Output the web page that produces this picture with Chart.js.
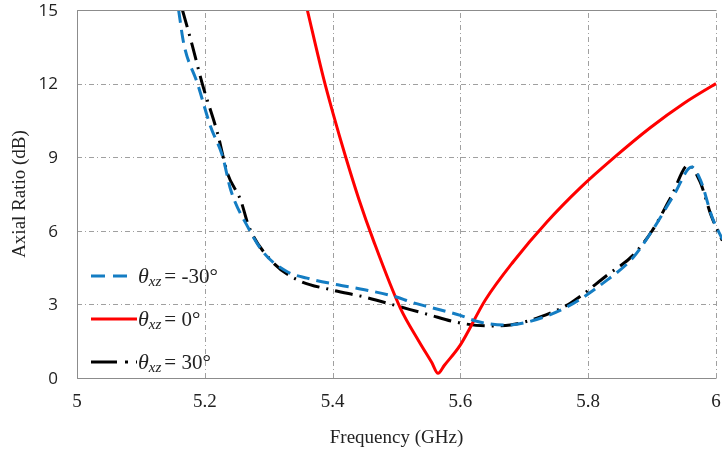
<!DOCTYPE html>
<html>
<head>
<meta charset="utf-8">
<script src="https://cdn.jsdelivr.net/npm/chart.js@4.4.0/dist/chart.umd.min.js"></script>
<style>
  html, body { margin: 0; padding: 0; background: #fff; }
  #wrap { width: 722px; height: 452px; }
</style>
</head>
<body>
<div id="wrap"><canvas id="chart"></canvas></div>
<script>
// theta_xz = -30 deg
const freqNeg30 = [5.159, 5.167, 5.1886, 5.209, 5.228, 5.2406, 5.267, 5.293, 5.329, 5.36, 5.408, 5.45, 5.5, 5.522, 5.55, 5.6, 5.627, 5.673, 5.705, 5.767, 5.83, 5.87, 5.9, 5.935, 5.962, 5.976, 5.994, 6.01];
const arNeg30   = [15, 13.64, 12.0, 10.25, 9.02, 7.66, 6.17, 5.08, 4.33, 4.07, 3.8, 3.6, 3.3, 3.1, 2.9, 2.55, 2.3, 2.16, 2.28, 2.9, 4.0, 4.9, 6.0, 7.5, 8.6, 8.05, 6.55, 5.65];

// theta_xz = 0 deg
const freq0 = [5.3604, 5.386, 5.4, 5.42, 5.441, 5.464, 5.506, 5.535, 5.555, 5.565, 5.575, 5.6, 5.639, 5.683, 5.735, 5.7875, 5.839, 5.897, 5.95, 6.0, 6.01];
const ar0   = [15, 12.2, 10.85, 9.05, 7.3, 5.6, 2.85, 1.5, 0.64, 0.19, 0.52, 1.35, 3.18, 4.75, 6.35, 7.75, 8.95, 10.2, 11.2, 12.0, 12.15];

// theta_xz = 30 deg
const freqPos30 = [5.165, 5.181, 5.196, 5.22, 5.2355, 5.256, 5.269, 5.303, 5.345, 5.397, 5.45, 5.506, 5.548, 5.6, 5.647, 5.678, 5.725, 5.772, 5.83, 5.87, 5.9, 5.93, 5.957, 5.975, 5.993, 6.01];
const arPos30   = [15, 13.5, 12.0, 9.97, 8.34, 7.26, 6.17, 4.81, 4.0, 3.6, 3.3, 2.9, 2.6, 2.24, 2.12, 2.16, 2.49, 3.05, 4.2, 5.0, 6.0, 7.4, 8.68, 8.0, 6.58, 5.6];

const xTicks = [5, 5.2, 5.4, 5.6, 5.8, 6];
const yTicks = [0, 3, 6, 9, 12, 15];
const xTickLabels = ["5", "5.2", "5.4", "5.6", "5.8", "6"];
const yTickLabels = ["0", "3", "6", "9", "12", "15"];

const legendLabels = ["-30°", "0°", "30°"];

const toPoints = (xs, ys) => xs.map((x, i) => ({ x: x, y: ys[i] }));

const BLUE = "rgb(20,125,195)";
const RED = "rgb(255,0,0)";
const BLACK = "#000";
const SERIF = "'Liberation Serif', 'DejaVu Serif', serif";

// curves run a little past the right edge of the frame, as in the original
const CLIP = { left: 0, top: 0, bottom: 0, right: 10 };

// dash-dot grid and tick labels, placed with the chart's scales
const gridPlugin = {
  id: "dashGrid",
  beforeDatasetsDraw(chart) {
    const ctx = chart.ctx;
    const a = chart.chartArea;
    const xs = chart.scales.x, ys = chart.scales.y;
    ctx.save();
    ctx.strokeStyle = "#a0a0a0";
    ctx.lineWidth = 1;
    ctx.setLineDash([5, 3, 1, 3]);
    xTicks.forEach(v => {
      const px = Math.round(xs.getPixelForValue(v)) + 0.5;
      ctx.beginPath();
      ctx.moveTo(px, a.bottom);
      ctx.lineTo(px, a.top);
      ctx.stroke();
    });
    yTicks.forEach(v => {
      const py = Math.round(ys.getPixelForValue(v)) + 0.5;
      ctx.beginPath();
      ctx.moveTo(a.left, py);
      ctx.lineTo(a.right, py);
      ctx.stroke();
    });
    ctx.setLineDash([]);

    ctx.fillStyle = "#222";
    ctx.textBaseline = "middle";
    ctx.textAlign = "center";
    ctx.font = "19px " + SERIF;
    xTicks.forEach((v, i) => {
      ctx.fillText(xTickLabels[i], xs.getPixelForValue(v), a.bottom + 24);
    });
    ctx.textAlign = "right";
    ctx.font = "17px 'Open Sans', 'Liberation Sans', sans-serif";
    yTicks.forEach((v, i) => {
      ctx.fillText(yTickLabels[i], a.left - 19, ys.getPixelForValue(v) + 1);
    });
    ctx.restore();
  }
};

// frame + custom legend with subscripts
const framePlugin = {
  id: "frame",
  afterDraw(chart) {
    const ctx = chart.ctx;
    const a = chart.chartArea;
    ctx.save();
    ctx.strokeStyle = "#8c8c8c";
    ctx.lineWidth = 1;
    ctx.beginPath();
    ctx.moveTo(Math.round(a.right) + 0.5, Math.round(a.top) + 0.5);
    ctx.lineTo(Math.round(a.left) + 0.5, Math.round(a.top) + 0.5);
    ctx.lineTo(Math.round(a.left) + 0.5, Math.round(a.bottom) + 0.5);
    ctx.lineTo(Math.round(a.right) + 0.5, Math.round(a.bottom) + 0.5);
    ctx.stroke();

    const items = [
      { color: BLUE, dash: [14, 8], y: 276 },
      { color: RED, dash: [], y: 319 },
      { color: BLACK, dash: [26, 8, 3, 8], y: 362 }
    ];
    items.forEach((it, i) => {
      ctx.strokeStyle = it.color;
      ctx.lineWidth = 3;
      ctx.setLineDash(it.dash);
      ctx.beginPath();
      ctx.moveTo(91, it.y);
      ctx.lineTo(i === 0 ? 135 : 137, it.y);
      ctx.stroke();
      ctx.setLineDash([]);

      let x = 138;
      const base = it.y + 7;
      ctx.fillStyle = "#222";
      ctx.textBaseline = "alphabetic";
      ctx.textAlign = "left";
      ctx.font = "italic 22px " + SERIF;
      ctx.fillText("θ", x, base);
      x += ctx.measureText("θ").width;
      ctx.font = "italic 15px " + SERIF;
      ctx.fillText("xz", x, base + 3);
      x += ctx.measureText("xz").width + 3;
      ctx.font = "21px " + SERIF;
      ctx.fillText("= " + legendLabels[i], x, base);
    });
    ctx.restore();
  }
};

new Chart(document.getElementById("chart"), {
  type: "line",
  data: {
    datasets: [
      {
        data: toPoints(freqNeg30, arNeg30),
        borderColor: BLUE,
        borderWidth: 3,
        borderDash: [13, 7],
        pointRadius: 0,
        cubicInterpolationMode: "monotone",
        clip: CLIP,
        fill: false
      },
      {
        data: toPoints(freq0, ar0),
        borderColor: RED,
        borderWidth: 3,
        pointRadius: 0,
        cubicInterpolationMode: "monotone",
        clip: CLIP,
        fill: false
      },
      {
        data: toPoints(freqPos30, arPos30),
        borderColor: BLACK,
        borderWidth: 3,
        borderDash: [18, 7, 2, 7],
        pointRadius: 0,
        cubicInterpolationMode: "monotone",
        clip: CLIP,
        fill: false
      }
    ]
  },
  options: {
    responsive: true,
    maintainAspectRatio: false,
    animation: false,
    layout: { padding: { left: 0, right: 6, top: 10, bottom: 0 } },
    plugins: {
      legend: { display: false },
      tooltip: { enabled: false }
    },
    scales: {
      x: {
        type: "linear",
        min: 5,
        max: 6,
        afterFit(scale) { scale.height = 74; },
        grid: { display: false },
        border: { display: false },
        ticks: { display: false },
        title: {
          display: true,
          text: "Frequency (GHz)",
          color: "#222",
          font: { family: SERIF, size: 19 },
          padding: { top: 2, bottom: 3 }
        }
      },
      y: {
        min: 0,
        max: 15,
        afterFit(scale) { scale.width = 77; },
        grid: { display: false },
        border: { display: false },
        ticks: { display: false },
        title: {
          display: true,
          text: "Axial Ratio (dB)",
          color: "#222",
          font: { family: SERIF, size: 19 },
          padding: { top: 9, bottom: 0 }
        }
      }
    }
  },
  plugins: [gridPlugin, framePlugin]
});
</script>
</body>
</html>
